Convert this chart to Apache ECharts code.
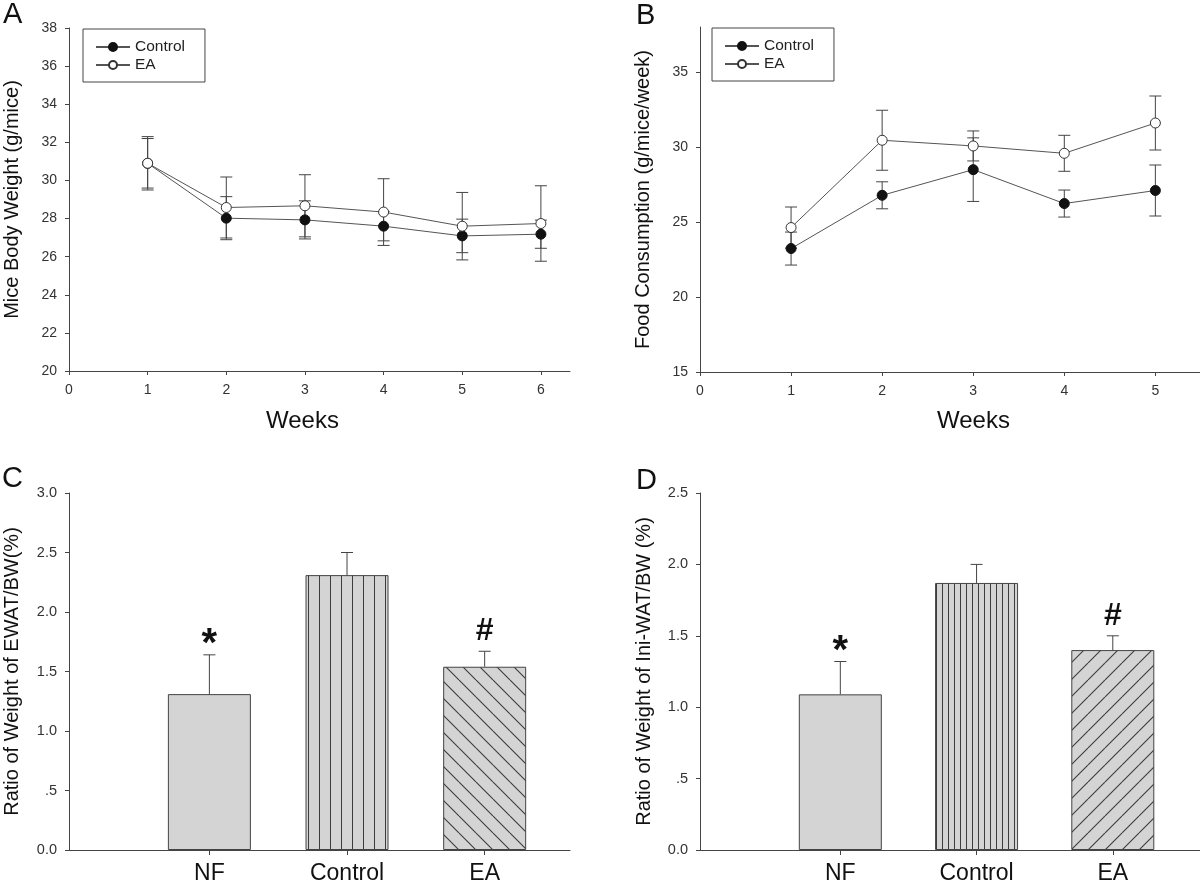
<!DOCTYPE html>
<html>
<head>
<meta charset="utf-8">
<script src="https://cdn.jsdelivr.net/npm/echarts@6.0.0/dist/echarts.min.js"></script>
<style>
html,body{margin:0;padding:0;background:#fff;}
#chart{width:1200px;height:885px;}
</style>
</head>
<body>
<div id="chart"></div>
<script>
// ---------- data ----------
const weeksA = [1, 2, 3, 4, 5, 6];
const controlA = [30.9, 28.02, 27.93, 27.6, 27.09, 27.18];
const controlAErr = [1.4, 1.13, 1.0, 0.77, 0.88, 0.74];
const eaA = [30.9, 28.58, 28.67, 28.34, 27.6, 27.74];
const eaAErr = [1.3, 1.6, 1.63, 1.75, 1.77, 1.98];

const weeksB = [1, 2, 3, 4, 5];
const controlB = [23.23, 26.78, 28.49, 26.23, 27.1];
const controlBErr = [1.1, 0.9, 2.12, 0.9, 1.7];
const eaB = [24.63, 30.45, 30.07, 29.58, 31.6];
const eaBErr = [1.37, 2.0, 1.0, 1.2, 1.8];

const groups = ['NF', 'Control', 'EA'];
const ewat = [1.31, 2.31, 1.54];
const ewatErr = [0.33, 0.19, 0.13];
const iniwat = [1.09, 1.87, 1.40];
const iniwatErr = [0.23, 0.13, 0.10];
const sigMarks = ['*', '', '#'];

const xTicksA = [0, 1, 2, 3, 4, 5, 6];
const yTicksA = [20, 22, 24, 26, 28, 30, 32, 34, 36, 38];
const xTicksB = [0, 1, 2, 3, 4, 5];
const yTicksB = [15, 20, 25, 30, 35];
const groupTicks = [1, 2, 3];
const ratioTickLabels = ['0.0', '.5', '1.0', '1.5', '2.0', '2.5', '3.0'];

// ---------- styling helpers ----------
const FONT = 'Liberation Sans, Arial, Helvetica, sans-serif';
const AX = '#444';
const FILL = '#d4d4d4';
const HATCH = '#3c3c3c';

function vertPattern(s) {
  const c = document.createElement('canvas');
  c.width = s; c.height = 4;
  const g = c.getContext('2d');
  g.fillStyle = FILL; g.fillRect(0, 0, s, 4);
  g.strokeStyle = HATCH; g.lineWidth = 1;
  g.beginPath(); g.moveTo(0.5, 0); g.lineTo(0.5, 4); g.stroke();
  return { image: c, repeat: 'repeat' };
}
function diagPattern(s, back) {
  const c = document.createElement('canvas');
  c.width = s; c.height = s;
  const g = c.getContext('2d');
  g.fillStyle = FILL; g.fillRect(0, 0, s, s);
  g.strokeStyle = HATCH; g.lineWidth = 1.1;
  g.beginPath();
  for (const o of [-s, 0, s]) {
    if (back) { g.moveTo(o, 0); g.lineTo(o + s, s); }
    else { g.moveTo(o, s); g.lineTo(o + s, 0); }
  }
  g.stroke();
  return { image: c, repeat: 'repeat' };
}

function errRender(twoSided, sig, capHalf) {
  return function (params, api) {
    const x = api.value(0), m = api.value(1), e = api.value(2);
    const top = api.coord([x, m + e]);
    const bot = api.coord([x, twoSided ? m - e : m]);
    const st = { stroke: AX, lineWidth: 1 };
    const ch = [
      { type: 'line', shape: { x1: top[0], y1: top[1], x2: bot[0], y2: bot[1] }, style: st },
      { type: 'line', shape: { x1: top[0] - capHalf, y1: top[1], x2: top[0] + capHalf, y2: top[1] }, style: st }
    ];
    if (twoSided) {
      ch.push({ type: 'line', shape: { x1: bot[0] - capHalf, y1: bot[1], x2: bot[0] + capHalf, y2: bot[1] }, style: st });
    }
    if (sig && sig[params.dataIndex]) {
      const t = sig[params.dataIndex];
      const star = t === '*';
      ch.push({
        type: 'text', x: top[0], y: top[1] - (star ? 10 : 20),
        style: { text: t, fontFamily: FONT, fontSize: star ? 40 : 32, fontWeight: 'bold', fill: '#111', align: 'center', verticalAlign: 'middle' }
      });
    }
    return { type: 'group', children: ch };
  };
}

function valAxis(gi, o) {
  return Object.assign({
    gridIndex: gi, type: 'value',
    axisLine: { show: true, onZero: false, lineStyle: { color: AX, width: 1 } },
    axisTick: { show: true, length: 4, lineStyle: { color: AX } },
    axisLabel: { color: '#333', fontSize: 14, fontFamily: FONT, margin: 12 },
    splitLine: { show: false },
    nameTextStyle: { color: '#111', fontFamily: FONT, fontSize: 20 },
    nameLocation: 'middle'
  }, o);
}

const chart = echarts.init(document.getElementById('chart'), null, { renderer: 'canvas' });

const lineCommon = { type: 'line', symbol: 'circle', symbolSize: 10, z: 3, lineStyle: { color: '#555', width: 1 } };
const ctrlItem = { color: '#111', borderColor: '#111', borderWidth: 1 };
const eaItem = { color: '#fff', borderColor: '#333', borderWidth: 1 };

const patsC = [FILL, vertPattern(11), diagPattern(17, true)];
const patsD = [FILL, vertPattern(6), diagPattern(17, false)];

const legendBase = {
  orient: 'vertical', selectedMode: false, data: ['Control', 'EA'],
  borderColor: AX, borderWidth: 1, padding: [10, 20, 9, 12],
  itemWidth: 34, itemHeight: 10, itemGap: 2,
  textStyle: { fontSize: 15.5, color: '#222', fontFamily: FONT, lineHeight: 15 }
};

const option = {
  animation: false,
  backgroundColor: '#fff',
  textStyle: { fontFamily: FONT },
  grid: [
    { left: 69, top: 28, width: 501, height: 343 },
    { left: 700, top: 27, width: 500, height: 345 },
    { left: 69, top: 493, width: 501, height: 358 },
    { left: 700, top: 493, width: 500, height: 357 }
  ],
  legend: [
    Object.assign({}, legendBase, { left: 83, top: 29 }),
    Object.assign({}, legendBase, { left: 712, top: 28 })
  ],
  xAxis: [
    valAxis(0, { min: 0, max: 6.37, interval: 1, name: 'Weeks', nameGap: 38,
      axisTick: { show: true, length: 4, lineStyle: { color: AX }, customValues: xTicksA },
      axisLabel: { color: '#333', fontSize: 14, fontFamily: FONT, margin: 12, customValues: xTicksA },
      nameTextStyle: { color: '#111', fontFamily: FONT, fontSize: 24, padding: [0, 34, 0, 0] } }),
    valAxis(1, { min: 0, max: 5.49, interval: 1, name: 'Weeks', nameGap: 37,
      axisTick: { show: true, length: 4, lineStyle: { color: AX }, customValues: xTicksB },
      axisLabel: { color: '#333', fontSize: 14, fontFamily: FONT, margin: 12, customValues: xTicksB },
      nameTextStyle: { color: '#111', fontFamily: FONT, fontSize: 24, padding: [0, 0, 0, 47] } }),
    valAxis(2, { min: -0.02, max: 3.62,
      axisTick: { show: true, length: 5, lineStyle: { color: AX }, customValues: groupTicks },
      axisLabel: { color: '#111', fontSize: 23, fontFamily: FONT, margin: 12, customValues: groupTicks,
        formatter: v => groups[Math.round(v) - 1] || '' } }),
    valAxis(3, { min: -0.03, max: 3.64,
      axisTick: { show: true, length: 5, lineStyle: { color: AX }, customValues: groupTicks },
      axisLabel: { color: '#111', fontSize: 23, fontFamily: FONT, margin: 12, customValues: groupTicks,
        formatter: v => groups[Math.round(v) - 1] || '' } })
  ],
  yAxis: [
    valAxis(0, { min: 20, max: 38, interval: 2, name: 'Mice Body Weight (g/mice)', nameGap: 47,
      axisLabel: { color: '#333', fontSize: 14, fontFamily: FONT, margin: 12, customValues: yTicksA } }),
    valAxis(1, { min: 15, max: 38, interval: 5, name: 'Food Consumption (g/mice/week)', nameGap: 47,
      axisTick: { show: true, length: 4, lineStyle: { color: AX }, customValues: yTicksB },
      axisLabel: { color: '#333', fontSize: 14, fontFamily: FONT, margin: 12, customValues: yTicksB } }),
    valAxis(2, { min: 0, max: 3, interval: 0.5, name: 'Ratio of Weight of EWAT/BW(%)', nameGap: 47,
      axisLabel: { color: '#333', fontSize: 14.5, fontFamily: FONT, margin: 12,
        formatter: v => ratioTickLabels[Math.round(v / 0.5)] } }),
    valAxis(3, { min: 0, max: 2.5, interval: 0.5, name: 'Ratio of Weight of Ini-WAT/BW (%)', nameGap: 46,
      axisLabel: { color: '#333', fontSize: 14.5, fontFamily: FONT, margin: 12,
        formatter: v => ratioTickLabels[Math.round(v / 0.5)] } })
  ],
  series: [
    // Panel A
    { type: 'custom', name: 'errA1', xAxisIndex: 0, yAxisIndex: 0, z: 1, renderItem: errRender(true, null, 6),
      data: weeksA.map((w, i) => [w, controlA[i], controlAErr[i]]) },
    { type: 'custom', name: 'errA2', xAxisIndex: 0, yAxisIndex: 0, z: 1, renderItem: errRender(true, null, 6),
      data: weeksA.map((w, i) => [w, eaA[i], eaAErr[i]]) },
    Object.assign({}, lineCommon, { name: 'Control', xAxisIndex: 0, yAxisIndex: 0, itemStyle: ctrlItem,
      data: weeksA.map((w, i) => [w, controlA[i]]) }),
    Object.assign({}, lineCommon, { name: 'EA', xAxisIndex: 0, yAxisIndex: 0, itemStyle: eaItem, z: 4,
      data: weeksA.map((w, i) => [w, eaA[i]]) }),
    // Panel B
    { type: 'custom', name: 'errB1', xAxisIndex: 1, yAxisIndex: 1, z: 1, renderItem: errRender(true, null, 6),
      data: weeksB.map((w, i) => [w, controlB[i], controlBErr[i]]) },
    { type: 'custom', name: 'errB2', xAxisIndex: 1, yAxisIndex: 1, z: 1, renderItem: errRender(true, null, 6),
      data: weeksB.map((w, i) => [w, eaB[i], eaBErr[i]]) },
    Object.assign({}, lineCommon, { name: 'Control', xAxisIndex: 1, yAxisIndex: 1, itemStyle: ctrlItem,
      data: weeksB.map((w, i) => [w, controlB[i]]) }),
    Object.assign({}, lineCommon, { name: 'EA', xAxisIndex: 1, yAxisIndex: 1, itemStyle: eaItem, z: 4,
      data: weeksB.map((w, i) => [w, eaB[i]]) }),
    // Panel C
    { type: 'bar', name: 'EWAT', xAxisIndex: 2, yAxisIndex: 2, barWidth: 83, z: 2,
      itemStyle: { borderColor: AX, borderWidth: 1 },
      data: groups.map((g, i) => ({ value: [i + 1, ewat[i]], itemStyle: { color: patsC[i] } })) },
    { type: 'custom', name: 'errC', xAxisIndex: 2, yAxisIndex: 2, z: 3, renderItem: errRender(false, sigMarks, 6),
      data: groups.map((g, i) => [i + 1, ewat[i], ewatErr[i]]) },
    // Panel D
    { type: 'bar', name: 'IniWAT', xAxisIndex: 3, yAxisIndex: 3, barWidth: 83, z: 2,
      itemStyle: { borderColor: AX, borderWidth: 1 },
      data: groups.map((g, i) => ({ value: [i + 1, iniwat[i]], itemStyle: { color: patsD[i] } })) },
    { type: 'custom', name: 'errD', xAxisIndex: 3, yAxisIndex: 3, z: 3, renderItem: errRender(false, sigMarks, 6),
      data: groups.map((g, i) => [i + 1, iniwat[i], iniwatErr[i]]) }
  ],
  graphic: [
    { type: 'text', x: 3, y: 15, style: { text: 'A', fontFamily: FONT, fontSize: 29, fill: '#111', verticalAlign: 'middle' } },
    { type: 'text', x: 636, y: 16, style: { text: 'B', fontFamily: FONT, fontSize: 29, fill: '#111', verticalAlign: 'middle' } },
    { type: 'text', x: 2, y: 479, style: { text: 'C', fontFamily: FONT, fontSize: 29, fill: '#111', verticalAlign: 'middle' } },
    { type: 'text', x: 636, y: 481, style: { text: 'D', fontFamily: FONT, fontSize: 29, fill: '#111', verticalAlign: 'middle' } }
  ]
};
chart.setOption(option);
</script>
</body>
</html>
